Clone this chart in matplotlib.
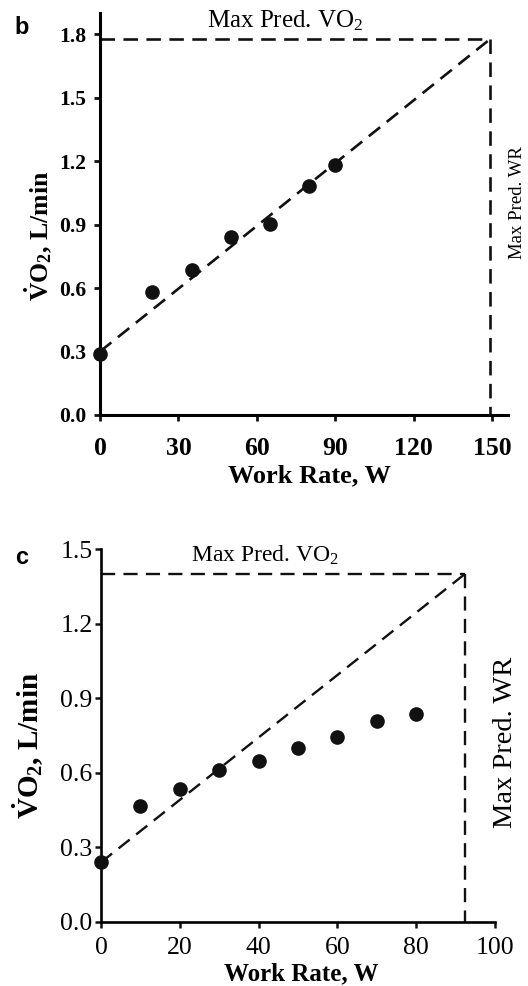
import matplotlib
matplotlib.use("Agg")
import matplotlib.pyplot as plt
import numpy as np

plt.rcParams['font.family'] = ['Liberation Serif', 'DejaVu Serif']
plt.rcParams['mathtext.default'] = 'regular'

# Panel b: incremental test, predicted line reaches max predicted values
wr_b = [0, 20, 35, 50, 65, 80, 90]
vo2_b = [0.29, 0.58, 0.685, 0.84, 0.905, 1.08, 1.18]
base_vo2_b = 0.30
max_wr_b = 149
max_vo2_b = 1.775
xticks_b = [0, 30, 60, 90, 120, 150]
yticks_b = [0.0, 0.3, 0.6, 0.9, 1.2, 1.5, 1.8]

# Panel c
wr_c = [0, 10, 20, 30, 40, 50, 60, 70, 80]
vo2_c = [0.24, 0.465, 0.535, 0.612, 0.648, 0.70, 0.745, 0.808, 0.835]
base_vo2_c = 0.24
max_wr_c = 92.4
max_vo2_c = 1.40
xticks_c = [0, 20, 40, 60, 80, 100]
yticks_c = [0.0, 0.3, 0.6, 0.9, 1.2, 1.5]

W, H = 528, 986
fig = plt.figure(figsize=(W / 100, H / 100), dpi=100)


def fx(px):
    return px / W


def fy(py):
    return 1 - py / H


def axes_px(left, top, right, bottom):
    return fig.add_axes([fx(left), fy(bottom), fx(right - left), (bottom - top) / H])


def style_axes(ax, lw, tick_len, tick_w):
    for s in ['top', 'right']:
        ax.spines[s].set_visible(False)
    for s in ['left', 'bottom']:
        ax.spines[s].set_linewidth(lw)
    ax.tick_params(direction='out', length=tick_len, width=tick_w, color='#111111')


ylab = r'$\dot{V}$O$_2$, L/min'

# ---------- panel b ----------
axb = axes_px(100, 13, 508, 415)
axb.set_xlim(0, 156)
axb.set_ylim(0, 1.9)
style_axes(axb, 2.2, 4, 2.0)
axb.set_xticks(xticks_b)
axb.set_yticks(yticks_b)
axb.set_yticklabels([f'{v:.1f}' for v in yticks_b], fontsize=15.5, fontweight='bold')
axb.set_xticklabels([str(v) for v in xticks_b], fontsize=18.5, fontweight='bold')
axb.tick_params(axis='y', pad=6)
axb.tick_params(axis='x', pad=12)

dash = dict(color='#111111', lw=1.9, dashes=(5.5, 3.2), clip_on=False)
axb.plot([0, max_wr_b], [base_vo2_b, max_vo2_b], **dash)
axb.plot([0, max_wr_b], [max_vo2_b, max_vo2_b], **dash)
axb.plot([max_wr_b, max_wr_b], [max_vo2_b, 0], **dash)
axb.plot(wr_b, vo2_b, 'o', color='#111111', ms=9.5, clip_on=False, zorder=5)

fig.text(fx(285), fy(21), 'Max Pred. VO$_2$', fontsize=18, ha='center', va='center')
fig.text(fx(517), fy(203), 'Max Pred. WR', fontsize=13.5, rotation=90, ha='center', va='center')
fig.text(fx(309), fy(476), 'Work Rate, W', fontsize=19, fontweight='bold', ha='center', va='center')
fig.text(fx(38), fy(236), ylab, fontsize=18.5, fontweight='bold', rotation=90,
         ha='center', va='center')
fig.text(fx(22), fy(28), 'b', fontsize=17, fontweight='bold',
         family=['Liberation Sans', 'DejaVu Sans'], ha='center', va='center')

# ---------- panel c ----------
axc = axes_px(101, 549, 495, 922)
axc.set_xlim(0, 100)
axc.set_ylim(0, 1.5)
style_axes(axc, 1.9, 4, 1.8)
axc.set_xticks(xticks_c)
axc.set_yticks(yticks_c)
axc.set_yticklabels([f'{v:.1f}' for v in yticks_c], fontsize=18.5)
axc.set_xticklabels([str(v) for v in xticks_c], fontsize=18.5)
axc.tick_params(axis='y', pad=2)
axc.tick_params(axis='x', pad=7)

dash_c = dict(color='#111111', lw=1.7, dashes=(6, 3.5), clip_on=False)
axc.plot([0, max_wr_c], [base_vo2_c, max_vo2_c], **dash_c)
axc.plot([0, max_wr_c], [max_vo2_c, max_vo2_c], **dash_c)
axc.plot([max_wr_c, max_wr_c], [max_vo2_c, 0], **dash_c)
axc.plot(wr_c, vo2_c, 'o', color='#111111', ms=9.5, clip_on=False, zorder=5)

fig.text(fx(265), fy(555), 'Max Pred. VO$_2$', fontsize=17, ha='center', va='center')
fig.text(fx(506), fy(742), 'Max Pred. WR', fontsize=20.5, rotation=90, ha='center', va='center')
fig.text(fx(301), fy(974), 'Work Rate, W', fontsize=18, fontweight='bold', ha='center', va='center')
fig.text(fx(28), fy(745), ylab, fontsize=21, fontweight='bold', rotation=90,
         ha='center', va='center')
fig.text(fx(22), fy(557), 'c', fontsize=17, fontweight='bold',
         family=['Liberation Sans', 'DejaVu Sans'], ha='center', va='center')

fig.savefig('out.png', dpi=100)
